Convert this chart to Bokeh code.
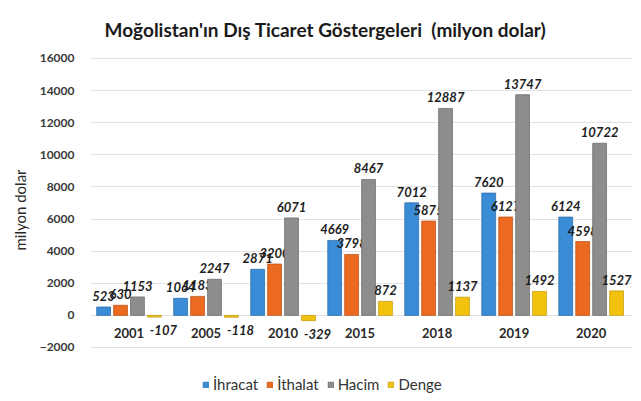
from bokeh.plotting import figure
from bokeh.models import ColumnDataSource, FixedTicker, Range1d, Legend, LegendItem, Title, Label
from bokeh.core.properties import value
from bokeh.embed import file_html
from bokeh.resources import INLINE

years = ["2001", "2005", "2010", "2015", "2018", "2019", "2020"]
ihracat = [523, 1064, 2871, 4669, 7012, 7620, 6124]
ithalat = [630, 1183, 3200, 3798, 5875, 6127, 4598]
hacim = [1153, 2247, 6071, 8467, 12887, 13747, 10722]
denge = [-107, -118, -329, 872, 1137, 1492, 1527]
series_names = ["İhracat", "İthalat", "Hacim", "Denge"]
colors = ["#3a8cd6", "#ec6a1f", "#8d8d8d", "#f2c20e"]
edge_colors = ["#2468a8", "#b84d12", "#666666", "#c09a08"]
y_ticks = [-2000, 0, 2000, 4000, 6000, 8000, 10000, 12000, 14000, 16000]
title_text = "Moğolistan'ın Dış Ticaret Göstergeleri \u00a0(milyon dolar)"

FONT = "Lato"

# frame covers the full canvas height so title and legend sit inside it
p = figure(width=633, height=393, output_backend="svg", toolbar_location=None,
           x_range=Range1d(-0.5, len(years) - 0.45), y_range=Range1d(-4865, 19612),
           min_border_left=82, min_border_right=0, min_border_top=0, min_border_bottom=0)
p.title = None

p.add_layout(Label(x=235, y=364, x_units="screen", y_units="screen", text=title_text,
                   text_align="center", text_baseline="middle", text_font=FONT,
                   text_font_size="19px", text_font_style="bold", text_color="#1a1a1a"))

ylab = Title(text="milyon dolar", align="left", offset=143, text_font=FONT,
             text_font_size="15px", text_font_style="normal", text_color="#2a2a2a",
             standoff=16)
p.add_layout(ylab, "left")

p.outline_line_color = None
p.xaxis.visible = False
p.xgrid.grid_line_color = None
p.ygrid.grid_line_color = "#e2e2e2"
p.yaxis.ticker = FixedTicker(ticks=y_ticks)
p.yaxis.axis_line_color = None
p.yaxis.major_tick_line_color = None
p.yaxis.minor_tick_line_color = None
p.yaxis.major_label_text_font = FONT
p.yaxis.major_label_text_font_size = "12px"
p.yaxis.major_label_text_font_style = "bold"
p.yaxis.major_label_text_color = "#3a3a3a"
p.yaxis.major_label_standoff = 10

offsets = [-0.33, -0.11, 0.11, 0.33]
all_vals = [ihracat, ithalat, hacim, denge]
items = []
for vals, off, col, ecol, name in zip(all_vals, offsets, colors, edge_colors, series_names):
    xs = [i + off for i in range(len(years))]
    src = ColumnDataSource(dict(x=xs, top=vals))
    r = p.vbar(x="x", top="top", bottom=0, width=0.18, source=src,
               fill_color=col, line_color=ecol, line_alpha=0.7)
    items.append(LegendItem(label=name, renderers=[r]))
    pos = ColumnDataSource(dict(x=[x for x, v in zip(xs, vals) if v >= 0],
                                y=[v for v in vals if v >= 0],
                                t=[str(v) for v in vals if v >= 0]))
    neg = ColumnDataSource(dict(x=[x for x, v in zip(xs, vals) if v < 0],
                                y=[v for v in vals if v < 0],
                                t=[str(v) for v in vals if v < 0]))
    p.text(x="x", y="y", text="t", source=pos, text_align="center", text_baseline="bottom",
           y_offset=-6, text_font=value(FONT), text_font_size="13px",
           text_font_style="bold italic", text_color="#1e1e1e")
    p.text(x="x", y="y", text="t", source=neg, text_align="center", text_baseline="top",
           x_offset=9, y_offset=8, text_font=value(FONT), text_font_size="13px",
           text_font_style="bold italic", text_color="#1e1e1e")

cat_src = ColumnDataSource(dict(x=list(range(len(years))), y=[0] * len(years), t=years))
p.text(x="x", y="y", text="t", source=cat_src, text_align="center", text_baseline="middle",
       y_offset=18, text_font=value(FONT), text_font_size="13px", text_font_style="bold",
       text_color="#2a2a2a")

legend = Legend(items=items, orientation="horizontal", location=(112, 0),
                label_text_font=FONT, label_text_font_size="15px", label_text_color="#333333",
                glyph_width=7, glyph_height=7, label_standoff=4, spacing=8,
                border_line_color=None, background_fill_alpha=0, padding=0, margin=0)
p.add_layout(legend, "center")

open("out.html", "w").write(file_html(p, INLINE))
